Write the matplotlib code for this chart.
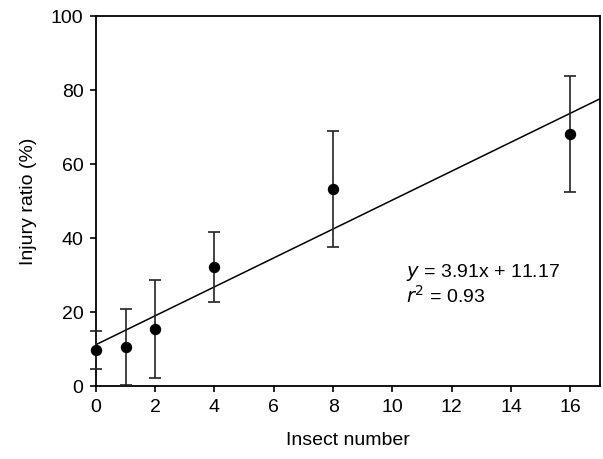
import matplotlib
matplotlib.use('Agg')
import matplotlib.pyplot as plt

plt.rcParams['font.family'] = ['Liberation Sans', 'DejaVu Sans']

insects = [0, 1, 2, 4, 8, 16]
injury = [9.7, 10.5, 15.4, 32.1, 53.2, 68.1]
err = [5.2, 10.3, 13.3, 9.4, 15.7, 15.6]
slope, intercept = 3.91, 11.17
xticks = [0, 2, 4, 6, 8, 10, 12, 14, 16]
yticks = [0, 20, 40, 60, 80, 100]

fig = plt.figure(figsize=(6.03, 4.59), dpi=100)
ax = fig.add_axes([0.159, 0.159, 0.836, 0.806])

ax.errorbar(insects, injury, yerr=err, fmt='o', color='black', ecolor='#222222',
            markersize=7.2, capsize=4.5, elinewidth=1.2, capthick=1.2, clip_on=False, zorder=3)

xs = [0, 17]
ax.plot(xs, [slope * x + intercept for x in xs], color='black', lw=1.1)

ax.set_xlim(0, 17)
ax.set_ylim(0, 100)
ax.set_xticks(xticks)
ax.set_yticks(yticks)
ax.tick_params(direction='out', length=4, width=1.2, labelsize=14, pad=5)
for s in ax.spines.values():
    s.set_linewidth(1.3)

ax.set_xlabel('Insect number', fontsize=14, labelpad=12)
ax.set_ylabel('Injury ratio (%)', fontsize=14, labelpad=10)

ax.text(10.45, 29.5, r'$\it{y}$ = 3.91x + 11.17', fontsize=14)
ax.text(10.45, 22.6, r'$\it{r}^{2}$ = 0.93', fontsize=14)

fig.savefig('out.png', dpi=100)
